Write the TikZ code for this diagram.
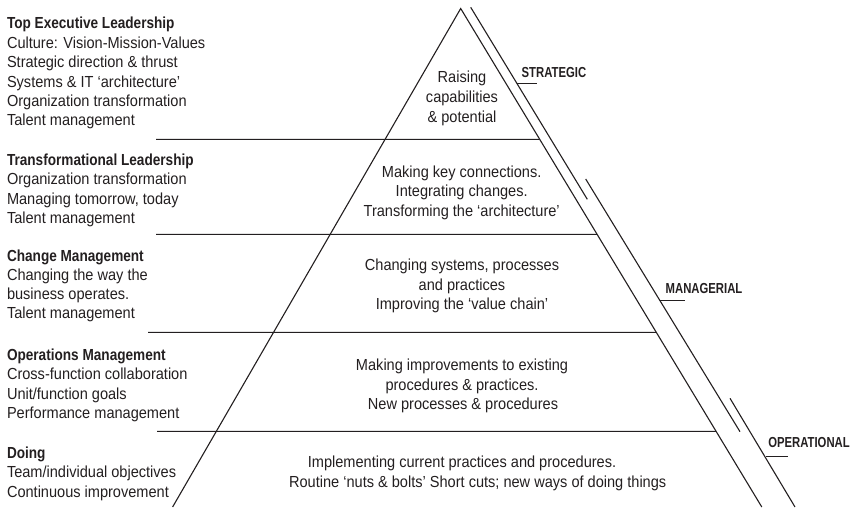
\documentclass[tikz,border=0pt]{standalone}
\usepackage{fontspec}
\setmainfont{Liberation Sans}[FakeStretch=0.91, BoldFeatures={FakeStretch=0.85}]
\newfontfamily\lblfont{Liberation Sans}[FakeStretch=0.78, BoldFeatures={FakeStretch=0.78}]
\usetikzlibrary{calc}
\definecolor{ink}{RGB}{35,31,32}
\begin{document}
\begin{tikzpicture}[x=1pt,y=-1pt,
  txt/.style={inner sep=0pt, outer sep=0pt, text=ink, font=\fontsize{16}{19.5}\selectfont},
  lt/.style={txt, anchor=base west},
  hd/.style={txt, anchor=base west, font=\fontsize{16}{19.5}\selectfont\bfseries},
  mt/.style={txt, anchor=base},
  lbl/.style={inner sep=0pt, outer sep=0pt, anchor=base west, text=ink, font=\lblfont\bfseries\fontsize{14.5}{17}\selectfont},
  side/.style={draw=ink, line width=1.1pt},
  rule/.style={draw=ink, line width=1pt}]
\useasboundingbox (0,0) rectangle (857,507);
% pyramid
\coordinate (apex) at (460.7,8.5);
\coordinate (lb) at (172.6,507);
\coordinate (rb) at (761.8,507);
\draw[side] (lb) -- (apex) -- (rb);
% band rules
\draw[rule] (156,139.3) -- ($(apex)!{(139.3-8.5)/498.5}!(rb)$);
\draw[rule] (156,234.3) -- ($(apex)!{(234.3-8.5)/498.5}!(rb)$);
\draw[rule] (148,332.3) -- ($(apex)!{(332.3-8.5)/498.5}!(rb)$);
\draw[rule] (157,431.3) -- ($(apex)!{(431.3-8.5)/498.5}!(rb)$);
% outer level brackets
\coordinate (s1a) at (470.7,7.3);   \coordinate (s1b) at (587.3,199.3);
\coordinate (s2a) at (585.7,179);   \coordinate (s2b) at (740,431.7);
\coordinate (s3a) at (730,398.3);   \coordinate (s3b) at (795,507);
\draw[side] (s1a) -- (s1b);
\draw[side] (s2a) -- (s2b);
\draw[side] (s3a) -- (s3b);
\coordinate (t1a) at (517,83.7);    \coordinate (t1b) at (536.7,83.7);
\coordinate (t2a) at (659.5,300);   \coordinate (t2b) at (685,300);
\coordinate (t3a) at (765.5,456.7); \coordinate (t3b) at (788.3,456.7);
\draw[rule] (t1a) -- (t1b);
\draw[rule] (t2a) -- (t2b);
\draw[rule] (t3a) -- (t3b);
\node[lbl] (strat) at (521.7,77.3) {STRATEGIC};
\node[lbl] (manag) at (665.7,293.3) {MANAGERIAL};
\node[lbl] (oper) at (768.3,447.5) {OPERATIONAL};
% left column
\node[hd] (h1) at (7,28.5) {Top Executive Leadership};
\node[lt] (a1) at (7,48) {Culture: Vision-Mission-Values};
\node[lt] (a2) at (7,67.5) {Strategic direction \& thrust};
\node[lt] (a3) at (7,87) {Systems \& IT ‘architecture’};
\node[lt] (a4) at (7,106.4) {Organization transformation};
\node[lt] (a5) at (7,125.8) {Talent management};
\node[hd] (h2) at (7,165) {Transformational Leadership};
\node[lt] (b1) at (7,184.6) {Organization transformation};
\node[lt] (b2) at (7,204.2) {Managing tomorrow, today};
\node[lt] (b3) at (7,223.8) {Talent management};
\node[hd] (h3) at (7,261) {Change Management};
\node[lt] (c1) at (7,280.5) {Changing the way the};
\node[lt] (c2) at (7,299.5) {business operates.};
\node[lt] (c3) at (7,318.8) {Talent management};
\node[hd] (h4) at (7,360) {Operations Management};
\node[lt] (d1) at (7,379.8) {Cross-function collaboration};
\node[lt] (d2) at (7,399.4) {Unit/function goals};
\node[lt] (d3) at (7,418.8) {Performance management};
\node[hd] (h5) at (7,458.2) {Doing};
\node[lt] (e1) at (7,477.8) {Team/individual objectives};
\node[lt] (e2) at (7,497.2) {Continuous improvement};
% pyramid texts
\node[mt] (p1) at (462,82.8) {Raising};
\node[mt] (p2) at (462,102.5) {capabilities};
\node[mt] (p3) at (462,122) {\& potential};
\node[mt] (q1) at (461.7,177.2) {Making key connections.};
\node[mt] (q2) at (461.7,196.8) {Integrating changes.};
\node[mt] (q3) at (461.7,216.2) {Transforming the ‘architecture’};
\node[mt] (r1) at (462,270.5) {Changing systems, processes};
\node[mt] (r2) at (462,290.2) {and practices};
\node[mt] (r3) at (462,309.8) {Improving the ‘value chain’};
\node[mt] (u1) at (462,370.5) {Making improvements to existing};
\node[mt] (u2) at (462,390.2) {procedures \& practices.};
\node[mt] (u3) at (463,409.5) {New processes \& procedures};
\node[mt] (v1) at (462,467.2) {Implementing current practices and procedures.};
\node[mt] (v2) at (477.7,487) {Routine ‘nuts \& bolts’ Short cuts; new ways of doing things};
\end{tikzpicture}
\end{document}
